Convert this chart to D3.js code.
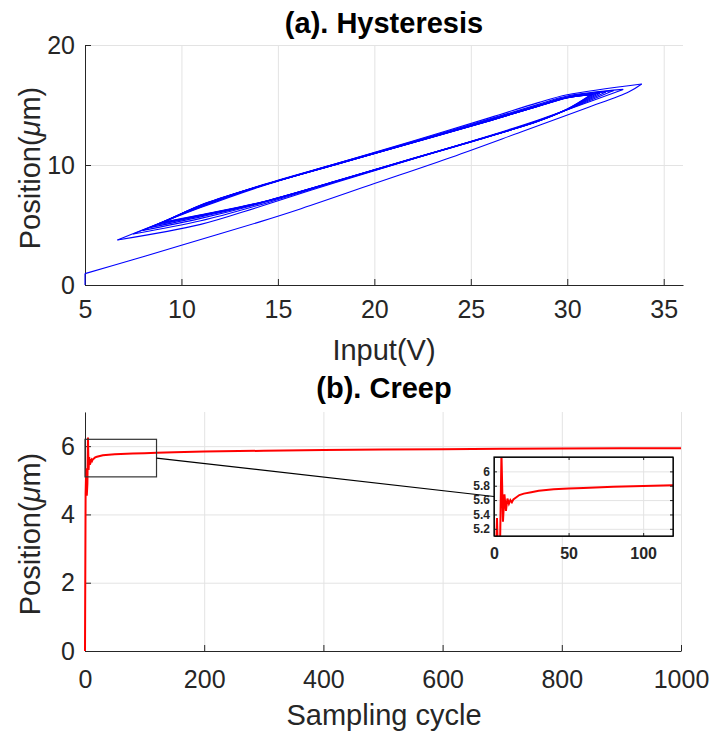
<!DOCTYPE html>
<html>
<head>
<meta charset="utf-8">
<script src="https://cdn.jsdelivr.net/npm/d3@7"></script>
<style>
  body { margin: 0; background: #fff; }
  svg { display: block; font-family: "Liberation Sans", Arial, Helvetica, sans-serif; }
</style>
</head>
<body>
<div id="chart"></div>
<script>
// ---- (a) hysteresis: virgin curve, loop tips and branch values on a fixed input grid
const virginX = [5, 5, 7.43, 10, 14.1, 16, 20, 24, 27.6, 31, 33.2, 33.86];
const virginY = [0, 0.95, 2.08, 3.31, 5.28, 6.25, 8.45, 10.65, 12.75, 14.75, 16.1, 16.75];

const leftTipX = [6.68, 7.5, 8.0, 8.4, 8.7, 8.9, 9.05, 9.15, 9.2];
const leftTipY = [3.75, 4.25, 4.55, 4.8, 4.98, 5.1, 5.2, 5.26, 5.3];
const rightTipX = [33.86, 32.9, 32.4, 32.0, 31.7, 31.5, 31.35, 31.25, 31.2];
const rightTipY = [16.75, 16.3, 16.2, 16.08, 15.98, 15.92, 15.88, 15.85, 15.83];

const branchX = [11, 14, 18, 22, 26, 28.5, 30];
// descending branch k: rightTip[k] -> leftTip[k]
const descendY = [
  [6.45, 8.15, 10.1, 12.0, 13.95, 15.2, 15.85],
  [6.5, 8.2, 10.1, 11.95, 13.85, 15.05, 15.75],
  [6.55, 8.2, 10.05, 11.9, 13.8, 14.98, 15.68],
  [6.6, 8.25, 10.1, 11.9, 13.75, 14.95, 15.64],
  [6.6, 8.2, 10.05, 11.85, 13.7, 14.92, 15.62],
  [6.62, 8.22, 10.05, 11.88, 13.72, 14.9, 15.6],
  [6.64, 8.2, 10.03, 11.86, 13.7, 14.9, 15.6],
  [6.65, 8.2, 10.04, 11.87, 13.7, 14.89, 15.59],
  [6.66, 8.21, 10.05, 11.88, 13.71, 14.9, 15.6]
];
// ascending branch j: leftTip[j] -> rightTip[j + 1]
const ascendY = [
  [5.05, 6.5, 8.55, 10.5, 12.45, 13.75, 14.6],
  [5.35, 6.65, 8.6, 10.5, 12.4, 13.7, 14.6],
  [5.55, 6.75, 8.62, 10.52, 12.4, 13.68, 14.62],
  [5.68, 6.8, 8.63, 10.53, 12.4, 13.66, 14.63],
  [5.76, 6.82, 8.65, 10.53, 12.41, 13.65, 14.64],
  [5.8, 6.83, 8.65, 10.54, 12.41, 13.65, 14.65],
  [5.83, 6.84, 8.66, 10.54, 12.42, 13.66, 14.65],
  [5.85, 6.85, 8.66, 10.55, 12.42, 13.66, 14.66]
];

const hystXTicks = [5, 10, 15, 20, 25, 30, 35];
const hystYTicks = [0, 10, 20];

// ---- (b) creep
const creepT = [0, 1, 2, 3, 4, 5, 6, 7, 8, 9, 10, 11, 12, 13, 15, 17, 20, 25, 30, 40, 50, 60, 80, 100, 120,
                150, 200, 300, 400, 500, 600, 700, 800, 900, 1000];
const creepY = [0, 4.6, 5.35, 4.55, 4.9, 6.25, 5.3, 5.68, 5.45, 5.62, 5.55, 5.6, 5.57, 5.61, 5.64, 5.67, 5.69,
                5.71, 5.73, 5.75, 5.76, 5.77, 5.785, 5.795, 5.805, 5.82, 5.84, 5.865, 5.885, 5.9, 5.91, 5.92,
                5.93, 5.935, 5.94];

const creepXTicks = [0, 200, 400, 600, 800, 1000];
const creepYTicks = [0, 2, 4, 6];
const zoomT = [0, 120];
const zoomY = [5.1, 6.2];
const insetXTicks = [0, 50, 100];
const insetYTicks = [5.2, 5.4, 5.6, 5.8, 6];

const AXIS = '#262626', GRID = '#e3e3e3';
const intFmt = d3.format('d');
const svg = d3.select('#chart').append('svg').attr('width', 713).attr('height', 734);

function styleAxis(sel, size, weight) {
  sel.attr('font-family', null).attr('font-size', null);
  sel.select('.domain').attr('stroke', AXIS);
  sel.selectAll('.tick line').attr('stroke', AXIS);
  sel.selectAll('.tick text').attr('fill', AXIS).style('font-size', size + 'px').style('font-weight', weight || 'normal');
}

function grid(g, x, y, xt, yt) {
  const [y0, y1] = y.range(), [x0, x1] = x.range();
  g.append('g').attr('transform', `translate(0,${y0})`)
    .call(d3.axisBottom(x).tickValues(xt).tickSize(-(y0 - y1)).tickFormat(''))
    .call(s => s.select('.domain').remove())
    .selectAll('line').attr('stroke', GRID);
  g.append('g').attr('transform', `translate(${x0},0)`)
    .call(d3.axisLeft(y).tickValues(yt).tickSize(-(x1 - x0)).tickFormat(''))
    .call(s => s.select('.domain').remove())
    .selectAll('line').attr('stroke', GRID);
}

function axes(g, x, y, xt, yt, xPad) {
  g.append('g').attr('transform', `translate(0,${y.range()[0]})`)
    .call(d3.axisBottom(x).tickValues(xt).tickFormat(intFmt).tickSizeInner(-6).tickSizeOuter(0).tickPadding(xPad))
    .call(s => styleAxis(s, 25));
  g.append('g').attr('transform', `translate(${x.range()[0]},0)`)
    .call(d3.axisLeft(y).tickValues(yt).tickFormat(intFmt).tickSizeInner(-6).tickSizeOuter(0).tickPadding(10))
    .call(s => styleAxis(s, 25));
}

function yLabel(cx, cy) {
  const t = svg.append('text').attr('transform', `translate(${cx},${cy}) rotate(-90)`)
    .attr('text-anchor', 'middle').attr('fill', AXIS).style('font-size', '29px');
  t.append('tspan').text('Position(');
  t.append('tspan').style('font-style', 'italic').text('\u03bc');
  t.append('tspan').text('m)');
}

// ================= (a) Hysteresis =================
const xA = d3.scaleLinear().domain([5, 36]).range([85, 683]);
const yA = d3.scaleLinear().domain([0, 20]).range([285, 45]);
const gA = svg.append('g');
grid(gA, xA, yA, hystXTicks, hystYTicks);
axes(gA, xA, yA, hystXTicks, hystYTicks, 15);

const hLine = d3.line().x(d => xA(d[0])).y(d => yA(d[1])).curve(d3.curveCatmullRom.alpha(0.5));
const blue = sel => sel.attr('fill', 'none').attr('stroke', '#0000ff').attr('stroke-width', 1.1);

const virgin = virginX.map((v, i) => [v, virginY[i]]);
gA.append('path').attr('d', d3.line().x(d => xA(d[0])).y(d => yA(d[1]))(virgin.slice(0, 2))).call(blue);
gA.append('path').attr('d', hLine(virgin.slice(1))).call(blue);

descendY.forEach((row, k) => {
  const pts = [[rightTipX[k], rightTipY[k]]]
    .concat(branchX.map((v, i) => [v, row[i]]).reverse())
    .concat([[leftTipX[k], leftTipY[k]]]);
  gA.append('path').attr('d', hLine(pts)).call(blue);
});
ascendY.forEach((row, j) => {
  const pts = [[leftTipX[j], leftTipY[j]]]
    .concat(branchX.map((v, i) => [v, row[i]]))
    .concat([[rightTipX[j + 1], rightTipY[j + 1]]]);
  gA.append('path').attr('d', hLine(pts)).call(blue);
});

svg.append('text').attr('x', 384).attr('y', 33).attr('text-anchor', 'middle')
  .style('font-size', '29px').style('font-weight', 'bold').attr('fill', '#000').text('(a). Hysteresis');
svg.append('text').attr('x', 384).attr('y', 360).attr('text-anchor', 'middle')
  .style('font-size', '29px').attr('fill', AXIS).text('Input(V)');
yLabel(40, 168);

// ================= (b) Creep =================
const xB = d3.scaleLinear().domain([0, 1000]).range([85, 681]);
const yB = d3.scaleLinear().domain([0, 7]).range([651, 412]);
const gB = svg.append('g');
grid(gB, xB, yB, creepXTicks, creepYTicks);
axes(gB, xB, yB, creepXTicks, creepYTicks, 19);

const creep = creepT.map((t, i) => [t, creepY[i]]);
gB.append('path')
  .attr('d', d3.line().x(d => xB(d[0])).y(d => yB(d[1]))(creep))
  .attr('fill', 'none').attr('stroke', '#ff0000').attr('stroke-width', 2);

// zoom rectangle and connector
const zr = { x0: xB(zoomT[0]), x1: xB(zoomT[1]), y0: yB(zoomY[1]), y1: yB(zoomY[0]) };
gB.append('rect').attr('x', zr.x0).attr('y', zr.y0).attr('width', zr.x1 - zr.x0).attr('height', zr.y1 - zr.y0)
  .attr('fill', 'none').attr('stroke', '#333').attr('stroke-width', 1.2);

// inset
const xI = d3.scaleLinear().domain(zoomT).range([494, 673]);
const yI = d3.scaleLinear().domain(zoomY).range([536, 457]);
gB.append('line').attr('x1', zr.x1).attr('y1', (zr.y0 + zr.y1) / 2)
  .attr('x2', xI.range()[0]).attr('y2', (yI.range()[0] + yI.range()[1]) / 2)
  .attr('stroke', '#000').attr('stroke-width', 1.2);

const gI = svg.append('g');
gI.append('rect').attr('x', 494).attr('y', 457).attr('width', 179).attr('height', 79).attr('fill', '#fff');
grid(gI, xI, yI, insetXTicks, insetYTicks);
svg.append('clipPath').attr('id', 'inset-clip').append('rect')
  .attr('x', 494).attr('y', 457).attr('width', 179).attr('height', 79);
gI.append('path').attr('clip-path', 'url(#inset-clip)')
  .attr('d', d3.line().x(d => xI(d[0])).y(d => yI(d[1]))(creep.filter(d => d[0] <= 125)))
  .attr('fill', 'none').attr('stroke', '#ff0000').attr('stroke-width', 2);

const insetFmt = d => d3.format('.1f')(d).replace(/\.0$/, '');
gI.append('g').attr('transform', 'translate(0,536)')
  .call(d3.axisBottom(xI).tickValues(insetXTicks).tickSizeInner(-3).tickSizeOuter(0).tickPadding(12))
  .call(s => styleAxis(s, 16, 'bold'));
gI.append('g').attr('transform', 'translate(0,457)')
  .call(d3.axisTop(xI).tickValues(insetXTicks).tickSizeInner(-3).tickSizeOuter(0).tickFormat(''))
  .call(s => styleAxis(s, 16));
gI.append('g').attr('transform', 'translate(494,0)')
  .call(d3.axisLeft(yI).tickValues(insetYTicks).tickSizeInner(-3).tickSizeOuter(0).tickPadding(4).tickFormat(insetFmt))
  .call(s => styleAxis(s, 12, 'bold'));
gI.append('g').attr('transform', 'translate(673,0)')
  .call(d3.axisRight(yI).tickValues(insetYTicks).tickSizeInner(-3).tickSizeOuter(0).tickFormat(''))
  .call(s => styleAxis(s, 12));
gI.append('rect').attr('x', 494).attr('y', 457).attr('width', 179).attr('height', 79)
  .attr('fill', 'none').attr('stroke', '#000').attr('stroke-width', 1.2);

svg.append('text').attr('x', 384).attr('y', 398).attr('text-anchor', 'middle')
  .style('font-size', '29px').style('font-weight', 'bold').attr('fill', '#000').text('(b). Creep');
svg.append('text').attr('x', 384).attr('y', 725).attr('text-anchor', 'middle')
  .style('font-size', '29px').attr('fill', AXIS).text('Sampling cycle');
yLabel(40, 534);
</script>
</body>
</html>
